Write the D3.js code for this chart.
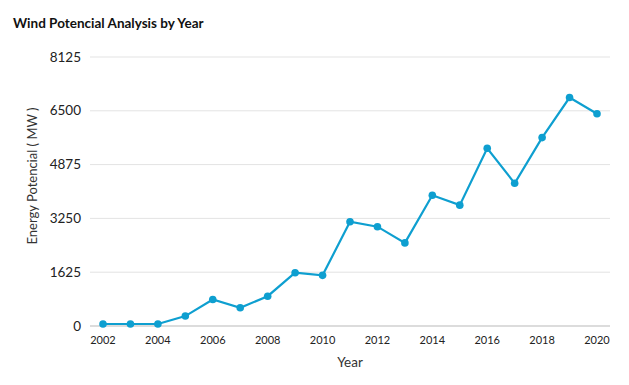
<!DOCTYPE html>
<html>
<head>
<meta charset="utf-8">
<script src="https://cdn.jsdelivr.net/npm/d3@7"></script>
<style>
  body { margin: 0; background: #fff; }
  text { font-family: Lato, "Open Sans", sans-serif; }
</style>
</head>
<body>
<svg id="chart" width="629" height="385"></svg>
<script>
// values
let years = [2002, 2003, 2004, 2005, 2006, 2007, 2008, 2009, 2010, 2011,
             2012, 2013, 2014, 2015, 2016, 2017, 2018, 2019, 2020];
let potential = [60, 60, 60, 300, 800, 550, 900, 1610, 1530, 3150,
                 3000, 2510, 3950, 3650, 5370, 4310, 5690, 6900, 6410];
let yTicks = [0, 1625, 3250, 4875, 6500, 8125];
let xTicks = [2002, 2004, 2006, 2008, 2010, 2012, 2014, 2016, 2018, 2020];

let svg = d3.select('#chart');
let margin = { left: 90, right: 19, top: 57, bottom: 59 };
let W = 629, H = 385;

let x = d3.scaleLinear().domain([2002, 2020]).range([103, 597]);
let y = d3.scaleLinear().domain([0, 8125]).range([H - margin.bottom, margin.top]);

// title
svg.append('text')
    .attr('x', 13).attr('y', 28)
    .attr('font-size', 13.5).attr('font-weight', 'bold')
    .attr('fill', '#111')
    .text('Wind Potencial Analysis by Year');

// grid lines
svg.append('g').selectAll('line').data(yTicks).enter()
    .append('line')
    .attr('x1', margin.left).attr('x2', W - margin.right)
    .attr('y1', d => y(d)).attr('y2', d => y(d))
    .attr('stroke', d => d == 0 ? '#d0d0d0' : '#e3e3e3')
    .attr('stroke-width', d => d == 0 ? 1.5 : 1);

// y tick labels
svg.append('g').selectAll('text').data(yTicks).enter()
    .append('text')
    .attr('x', 81).attr('y', d => y(d) + 4.5)
    .attr('text-anchor', 'end')
    .attr('font-size', 13.5).attr('fill', '#222')
    .text(d => d);

// x tick labels
svg.append('g').selectAll('text').data(xTicks).enter()
    .append('text')
    .attr('x', d => x(d)).attr('y', 344)
    .attr('text-anchor', 'middle')
    .attr('font-size', 11).attr('fill', '#222')
    .text(d => d);

// axis titles
svg.append('text')
    .attr('x', 350).attr('y', 367)
    .attr('text-anchor', 'middle')
    .attr('font-size', 13.5).attr('fill', '#333')
    .text('Year');
svg.append('text')
    .attr('transform', 'translate(37,176) rotate(-90)')
    .attr('text-anchor', 'middle')
    .attr('font-size', 13).attr('fill', '#333')
    .text('Energy Potencial ( MW )');

// line + points
let line = d3.line()
    .x((d, i) => x(years[i]))
    .y(d => y(d));
svg.append('path')
    .attr('d', line(potential))
    .attr('fill', 'none')
    .attr('stroke', '#0e9fd0')
    .attr('stroke-width', 2.2);
svg.append('g').selectAll('circle').data(potential).enter()
    .append('circle')
    .attr('cx', (d, i) => x(years[i]))
    .attr('cy', d => y(d))
    .attr('r', 3.8)
    .attr('fill', '#0e9fd0');
</script>
</body>
</html>
